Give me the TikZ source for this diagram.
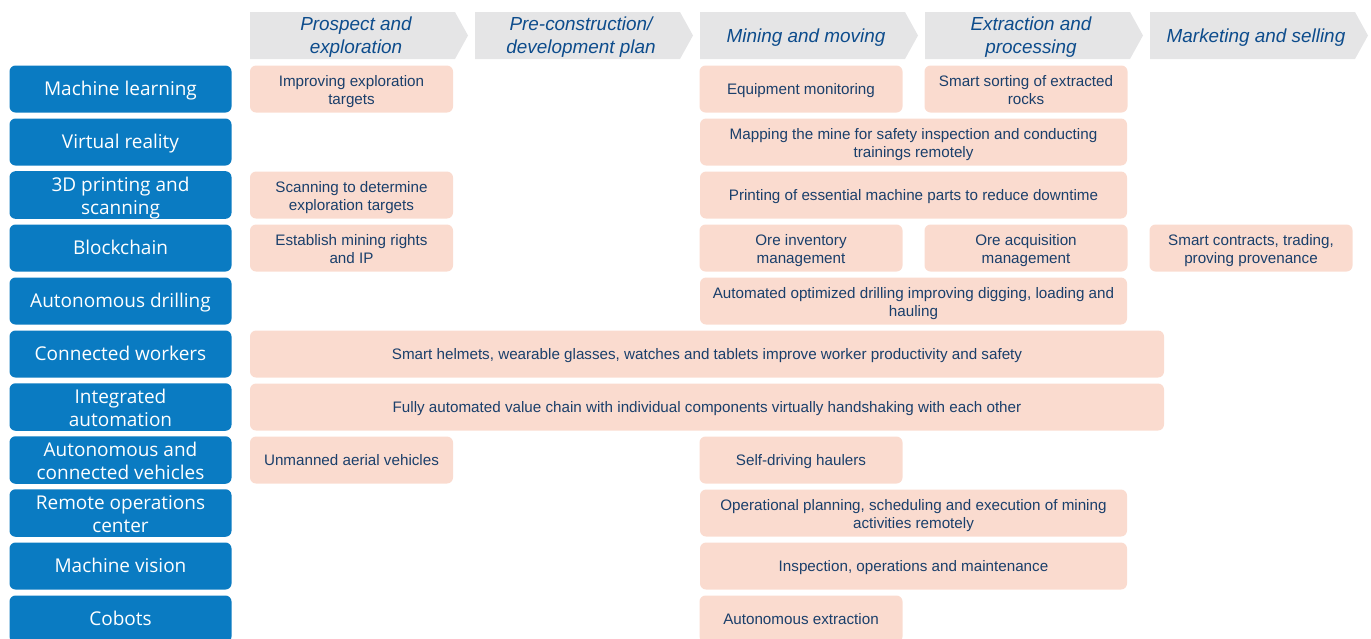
\documentclass[tikz,border=0pt]{standalone}
\usepackage{fontspec}
\setmainfont{Liberation Sans}
\newfontfamily\techfont{Open Sans}
\definecolor{techblue}{HTML}{0A7BC2}
\definecolor{pinkbox}{HTML}{FADBCF}
\definecolor{hdrgrey}{HTML}{E5E5E6}
\definecolor{hdrtext}{HTML}{0D4C8C}
\definecolor{celltext}{HTML}{1A3F6B}
\newcommand{\topstrut}{\rule{0pt}{0.95em}}
\newcommand{\botstrut}{\rule[-0.235em]{0pt}{0pt}}
\newcommand{\drop}[1]{\rule{0pt}{\dimexpr0.95em+#1\relax}}
\newcommand{\dropH}{\drop{-0.5pt}}
\newcommand{\dropT}{\drop{2pt}}
\newcommand{\dropC}{\drop{2.5pt}}
\begin{document}
\begin{tikzpicture}[x=1pt,y=-1pt,
 centred/.style={execute at begin node=\topstrut, execute at end node=\botstrut},
 tech/.style={centred, fill=techblue, rounded corners=6pt, minimum width=222pt, minimum height=47pt, inner sep=0pt, text=white, font=\techfont\fontsize{19}{23}\selectfont, align=center},
 cell/.style={centred, fill=pinkbox, rounded corners=6pt, minimum height=47pt, inner sep=0pt, text=celltext, font=\fontsize{15.2}{18}\selectfont, align=center},
 single/.style={cell, minimum width=203pt},
 span/.style={cell, minimum width=427pt},
 wide/.style={cell, minimum width=914pt},
 hdr/.style={fill=hdrgrey},
 hdrtxt/.style={centred, text=hdrtext, font=\itshape\fontsize{18.9}{23}\selectfont, align=center, inner sep=0pt}]
\useasboundingbox (0,0) rectangle (1371,638);
\clip (0,0) rectangle (1371,638);
% headers
\foreach \x in {250,475,700,925,1150}{
  \fill[hdr] (\x,12) -- (\x+205,12) -- (\x+218,35.5) -- (\x+205,59) -- (\x,59) -- cycle;
}
\node[hdrtxt] (h1) at (356,35.5) {\dropH Prospect and\\exploration};
\node[hdrtxt] (h2) at (581,35.5) {\dropH Pre-construction/\\development plan};
\node[hdrtxt] (h3) at (806,35.5) {Mining and moving};
\node[hdrtxt] (h4) at (1031,35.5) {\dropH Extraction and\\processing};
\node[hdrtxt] (h5) at (1256,35.5) {Marketing and selling};
% technologies
\node[tech] (t1) at (120.5,89) {Machine learning};
\node[tech] (t2) at (120.5,142) {Virtual reality};
\node[tech] (t3) at (120.5,195) {\dropT 3D printing and\\scanning};
\node[tech] (t4) at (120.5,248) {Blockchain};
\node[tech] (t5) at (120.5,301) {Autonomous drilling};
\node[tech] (t6) at (120.5,354) {Connected workers};
\node[tech] (t7) at (120.5,407) {\dropT Integrated\\automation};
\node[tech] (t8) at (120.5,460) {\dropT Autonomous and\\connected vehicles};
\node[tech] (t9) at (120.5,513) {\dropT Remote operations\\center};
\node[tech] (t10) at (120.5,566) {Machine vision};
\node[tech] (t11) at (120.5,619) {Cobots};
% row 1
\node[single] (c1a) at (351.5,89) {\dropC Improving exploration\\targets};
\node[single] (c1c) at (801,89) {Equipment monitoring};
\node[single] (c1d) at (1026,89) {\dropC Smart sorting of extracted\\rocks};
% row 2
\node[span] (c2) at (913.5,142) {\dropC Mapping the mine for safety inspection and conducting\\trainings remotely};
% row 3
\node[single] (c3a) at (351.5,195) {\dropC Scanning to determine\\exploration targets};
\node[span] (c3c) at (913.5,195) {Printing of essential machine parts to reduce downtime};
% row 4
\node[single] (c4a) at (351.5,248) {\dropC Establish mining rights\\and IP};
\node[single] (c4c) at (801,248) {\dropC Ore inventory\\management};
\node[single] (c4d) at (1026,248) {\dropC Ore acquisition\\management};
\node[single] (c4e) at (1251,248) {\dropC Smart contracts, trading,\\proving provenance};
% row 5
\node[span] (c5) at (913.5,301) {\dropC Automated optimized drilling improving digging, loading and\\hauling};
% row 6
\node[wide] (c6) at (707,354) {Smart helmets, wearable glasses, watches and tablets improve worker productivity and safety};
% row 7
\node[wide] (c7) at (707,407) {Fully automated value chain with individual components virtually handshaking with each other};
% row 8
\node[single] (c8a) at (351.5,460) {Unmanned aerial vehicles};
\node[single] (c8c) at (801,460) {Self-driving haulers};
% row 9
\node[span] (c9) at (913.5,513) {\dropC Operational planning, scheduling and execution of mining\\activities remotely};
% row 10
\node[span] (c10) at (913.5,566) {Inspection, operations and maintenance};
% row 11
\node[single] (c11) at (801,619) {Autonomous extraction};
\end{tikzpicture}
\end{document}
